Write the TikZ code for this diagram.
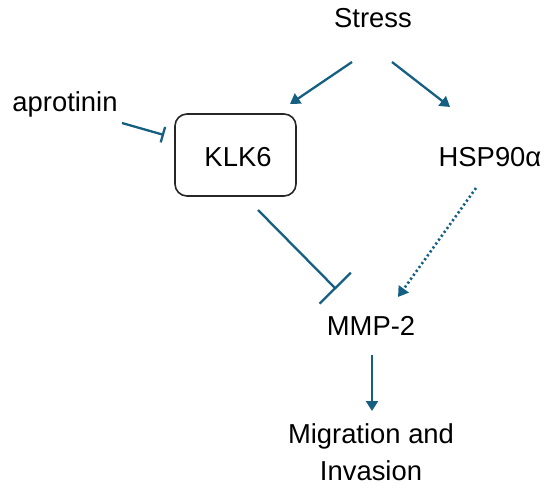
\documentclass[tikz,border=0pt]{standalone}
\usepackage{fontspec}
\setmainfont{Liberation Sans}
\usetikzlibrary{arrows.meta}
\definecolor{lc}{HTML}{156082}
\tikzset{
  lbl/.style={inner sep=0pt, font=\fontsize{27.5}{37}\selectfont, anchor=base, text=black},
  conn/.style={draw=lc, line width=2.3bp},
  act/.style={conn, -{Triangle[length=10bp,width=12bp]}},
  inh/.style={conn, -{Bar[width=16bp,line width=2.3bp]}},
  inhbig/.style={conn, -{Bar[width=44bp,line width=2.3bp]}},
  dots/.style={dash pattern=on 2.2bp off 2.6bp, line width=2.6bp},
  klkbox/.style={draw=black!85, line width=1.6bp, rounded corners=12bp, minimum width=121bp, minimum height=82bp}
}
\begin{document}
\begin{tikzpicture}[x=1bp,y=-1bp]
\useasboundingbox (0,0) rectangle (550,491);
\node[lbl] (stress) at (373,28) {Stress};
\node[lbl] (apro) at (65,112) {aprotinin};
\node[klkbox] (box) at (235.5,155) {};
\node[lbl] (klk) at (238,167) {KLK6};
\node[lbl] (hsp) at (490,167) {HSP90α};
\node[lbl] (mmp) at (371,335) {MMP-2};
\node[lbl, align=center] (mig) at (371,480) {Migration and\\Invasion};
\coordinate (s1) at (352,62);
\coordinate (s1e) at (290,104);
\coordinate (s2) at (392,62);
\coordinate (s2e) at (450,107);
\coordinate (a1) at (122,123);
\coordinate (a1e) at (164,135);
\coordinate (k1) at (258,210);
\coordinate (k1e) at (336,289);
\coordinate (h1) at (476,188);
\coordinate (h1e) at (398,297);
\coordinate (m1) at (372,355);
\coordinate (m1e) at (372,411);
\draw[act] (s1) -- (s1e);
\draw[act] (s2) -- (s2e);
\draw[inh] (a1) -- (a1e);
\draw[inhbig] (k1) -- (k1e);
\draw[act, dots] (h1) -- (h1e);
\draw[act] (m1) -- (m1e);
\end{tikzpicture}
\end{document}
